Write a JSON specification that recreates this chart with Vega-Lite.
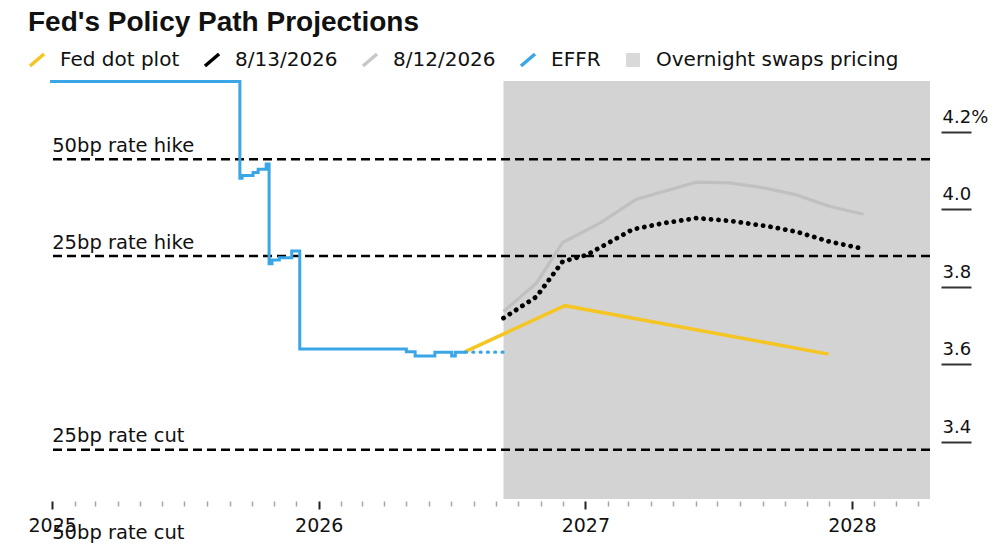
{
  "$schema": "https://vega.github.io/schema/vega-lite/v6.json",
  "width": 880,
  "height": 418,
  "autosize": {"type": "none"},
  "padding": {"left": 50, "top": 81, "right": 70, "bottom": 46},
  "background": "white",
  "title": {
    "text": "Fed's Policy Path Projections",
    "anchor": "start",
    "frame": "group",
    "dx": -22,
    "dy": 28,
    "offset": 19,
    "baseline": "alphabetic",
    "font": "Liberation Sans",
    "fontSize": 28,
    "fontWeight": "bold",
    "color": "#111111"
  },
  "datasets": {
    "swaps": [
      {"start": "2026-09-11", "end": "2028-04-17", "lo": 3.252, "hi": 4.331}
    ],
    "levels": [
      {"label": "50bp rate hike", "value": 4.129},
      {"label": "25bp rate hike", "value": 3.879},
      {"label": "25bp rate cut", "value": 3.379},
      {"label": "50bp rate cut", "value": 3.129}
    ],
    "lines": [
      {"series": "EFFR", "date": "2024-12-29", "value": 4.33},
      {"series": "EFFR", "date": "2025-09-15", "value": 4.08},
      {"series": "EFFR", "date": "2025-09-18", "value": 4.087},
      {"series": "EFFR", "date": "2025-10-03", "value": 4.095},
      {"series": "EFFR", "date": "2025-10-10", "value": 4.103},
      {"series": "EFFR", "date": "2025-10-21", "value": 4.117},
      {"series": "EFFR", "date": "2025-10-25", "value": 3.859},
      {"series": "EFFR", "date": "2025-10-29", "value": 3.869},
      {"series": "EFFR", "date": "2025-11-08", "value": 3.875},
      {"series": "EFFR", "date": "2025-11-25", "value": 3.892},
      {"series": "EFFR", "date": "2025-12-06", "value": 3.639},
      {"series": "EFFR", "date": "2026-05-01", "value": 3.632},
      {"series": "EFFR", "date": "2026-05-13", "value": 3.621},
      {"series": "EFFR", "date": "2026-06-09", "value": 3.631},
      {"series": "EFFR", "date": "2026-07-02", "value": 3.621},
      {"series": "EFFR", "date": "2026-07-07", "value": 3.631},
      {"series": "EFFR", "date": "2026-07-21", "value": 3.631},
      {"series": "EFFR projected", "date": "2026-07-21", "value": 3.631},
      {"series": "EFFR projected", "date": "2026-09-11", "value": 3.631},
      {"series": "Fed dot plot", "date": "2026-07-20", "value": 3.632},
      {"series": "Fed dot plot", "date": "2026-12-04", "value": 3.751},
      {"series": "Fed dot plot", "date": "2027-11-30", "value": 3.626},
      {"series": "8/12/2026", "date": "2026-09-11", "value": 3.736},
      {"series": "8/12/2026", "date": "2026-10-26", "value": 3.809},
      {"series": "8/12/2026", "date": "2026-12-01", "value": 3.914},
      {"series": "8/12/2026", "date": "2027-01-21", "value": 3.964},
      {"series": "8/12/2026", "date": "2027-03-12", "value": 4.026},
      {"series": "8/12/2026", "date": "2027-06-02", "value": 4.07},
      {"series": "8/12/2026", "date": "2027-07-18", "value": 4.068},
      {"series": "8/12/2026", "date": "2027-09-06", "value": 4.054},
      {"series": "8/12/2026", "date": "2027-10-17", "value": 4.037},
      {"series": "8/12/2026", "date": "2027-12-02", "value": 4.007},
      {"series": "8/12/2026", "date": "2028-01-17", "value": 3.987},
      {"series": "8/13/2026", "date": "2026-09-11", "value": 3.719},
      {"series": "8/13/2026", "date": "2026-10-26", "value": 3.774},
      {"series": "8/13/2026", "date": "2026-12-01", "value": 3.865},
      {"series": "8/13/2026", "date": "2027-01-03", "value": 3.882},
      {"series": "8/13/2026", "date": "2027-03-07", "value": 3.948},
      {"series": "8/13/2026", "date": "2027-04-18", "value": 3.964},
      {"series": "8/13/2026", "date": "2027-06-02", "value": 3.977},
      {"series": "8/13/2026", "date": "2027-07-18", "value": 3.97},
      {"series": "8/13/2026", "date": "2027-09-11", "value": 3.955},
      {"series": "8/13/2026", "date": "2027-10-17", "value": 3.942},
      {"series": "8/13/2026", "date": "2027-12-02", "value": 3.916},
      {"series": "8/13/2026", "date": "2028-01-19", "value": 3.897}
    ]
  },
  "layer": [
    {
      "data": {"name": "swaps"},
      "mark": {"type": "rect", "color": "#d3d3d3"},
      "encoding": {
        "x": {
          "field": "start",
          "type": "temporal",
          "scale": {
            "type": "utc",
            "domain": [
              {"year": 2024, "month": 12, "date": 29, "utc": true},
              {"year": 2028, "month": 4, "date": 17, "utc": true}
            ]
          },
          "axis": {
            "orient": "bottom",
            "offset": 2,
            "title": null,
            "domain": false,
            "grid": false,
            "tickCount": {"interval": "month", "step": 1},
            "tickSize": {"condition": {"test": "utcmonth(datum.value) === 0", "value": 8}, "value": 5},
            "tickColor": {"condition": {"test": "utcmonth(datum.value) === 0", "value": "#222222"}, "value": "#a8a8a8"},
            "tickWidth": {"condition": {"test": "utcmonth(datum.value) === 0", "value": 2}, "value": 1.5},
            "labelExpr": "utcmonth(datum.value) === 0 ? utcFormat(datum.value, '%Y') : ''",
            "labelFont": "DejaVu Sans",
            "labelFontSize": 19,
            "labelColor": "#111111",
            "labelPadding": 7,
            "labelFlush": false,
            "labelOverlap": false,
            "labelBound": false
          }
        },
        "x2": {"field": "end"},
        "y": {
          "field": "hi",
          "type": "quantitative",
          "scale": {"domain": [3.252, 4.331], "zero": false, "nice": false},
          "axis": {
            "orient": "right",
            "offset": 11,
            "title": null,
            "values": [3.4, 3.6, 3.8, 4.0, 4.2],
            "domain": false,
            "grid": false,
            "tickSize": 30,
            "tickWidth": 2,
            "tickColor": "#333333",
            "labelAlign": "left",
            "labelBaseline": "alphabetic",
            "labelPadding": -29,
            "labelOffset": -9.5,
            "labelFont": "DejaVu Sans",
            "labelFontSize": 18,
            "labelColor": "#111111",
            "labelExpr": "datum.value === 4.2 ? '4.2%' : format(datum.value, '.1f')",
            "labelBound": false,
            "labelOverlap": false
          }
        },
        "y2": {"field": "lo"}
      }
    },
    {
      "data": {"name": "levels"},
      "mark": {"type": "rule", "color": "#000000", "strokeWidth": 2.5, "strokeDash": [9, 5]},
      "encoding": {
        "y": {"field": "value", "type": "quantitative"}
      }
    },
    {
      "data": {"name": "levels"},
      "mark": {"type": "text", "align": "left", "baseline": "alphabetic", "dy": -7.6, "font": "DejaVu Sans", "fontSize": 19.5, "color": "#111111"},
      "encoding": {
        "x": {"datum": {"year": 2025, "month": 1, "date": 1, "utc": true}, "type": "temporal"},
        "y": {"field": "value", "type": "quantitative"},
        "text": {"field": "label"}
      }
    },
    {
      "data": {"name": "lines"},
      "transform": [{"filter": "datum.series === '8/12/2026'"}],
      "mark": {"type": "line", "color": "#c0c0c0", "strokeWidth": 3.3},
      "encoding": {
        "x": {"field": "date", "type": "temporal"},
        "y": {"field": "value", "type": "quantitative"}
      }
    },
    {
      "data": {"name": "lines"},
      "transform": [{"filter": "datum.series === '8/13/2026'"}],
      "mark": {"type": "line", "color": "#000000", "strokeWidth": 4.8, "strokeCap": "round", "strokeDash": [0.1, 7.4]},
      "encoding": {
        "x": {"field": "date", "type": "temporal"},
        "y": {"field": "value", "type": "quantitative"}
      }
    },
    {
      "data": {"name": "lines"},
      "transform": [{"filter": "datum.series === 'Fed dot plot'"}],
      "mark": {"type": "line", "color": "#f5c523", "strokeWidth": 3.5},
      "encoding": {
        "x": {"field": "date", "type": "temporal"},
        "y": {"field": "value", "type": "quantitative"}
      }
    },
    {
      "data": {"name": "lines"},
      "transform": [{"filter": "datum.series === 'EFFR projected'"}],
      "mark": {"type": "line", "color": "#3aa6e6", "strokeWidth": 3.2, "strokeCap": "round", "strokeDash": [1, 6.3]},
      "encoding": {
        "x": {"field": "date", "type": "temporal"},
        "y": {"field": "value", "type": "quantitative"}
      }
    },
    {
      "data": {"name": "lines"},
      "transform": [{"filter": "datum.series === 'EFFR'"}],
      "mark": {"type": "line", "color": "#3aa6e6", "strokeWidth": 3, "interpolate": "step-after"},
      "encoding": {
        "x": {"field": "date", "type": "temporal"},
        "y": {"field": "value", "type": "quantitative"}
      }
    },
    {
      "data": {"name": "lines"},
      "transform": [{"filter": "datum.series !== 'EFFR projected'"}],
      "mark": {"type": "point", "filled": true, "opacity": 0, "strokeWidth": 0},
      "encoding": {
        "x": {"field": "date", "type": "temporal"},
        "y": {"field": "value", "type": "quantitative"},
        "color": {
          "field": "series",
          "type": "nominal",
          "scale": {
            "domain": ["Fed dot plot", "8/13/2026", "8/12/2026", "EFFR", "Overnight swaps pricing"],
            "range": ["#f5c523", "#000000", "#c8c8c8", "#3aa6e6", "#d9d9d9"]
          },
          "legend": {
            "orient": "none",
            "legendX": -23,
            "legendY": -31,
            "direction": "horizontal",
            "title": null,
            "padding": 0,
            "labelFont": "DejaVu Sans",
            "labelFontSize": 20,
            "labelColor": "#111111",
            "labelLimit": 400,
            "labelOffset": 13,
            "columnPadding": 22,
            "symbolSize": 324,
            "symbolStrokeWidth": 0,
            "symbolOpacity": 1,
            "encode": {"symbols": {"update": {"opacity": {"value": 1}}}}
          }
        },
        "shape": {
          "field": "series",
          "type": "nominal",
          "scale": {
            "domain": ["Fed dot plot", "8/13/2026", "8/12/2026", "EFFR", "Overnight swaps pricing"],
            "range": [
              "M0.653,-0.818L0.907,-0.522L-0.653,0.818L-0.907,0.522Z",
              "M0.653,-0.818L0.907,-0.522L-0.653,0.818L-0.907,0.522Z",
              "M0.653,-0.818L0.907,-0.522L-0.653,0.818L-0.907,0.522Z",
              "M0.653,-0.818L0.907,-0.522L-0.653,0.818L-0.907,0.522Z",
              "M-0.78,-0.78L0.78,-0.78L0.78,0.78L-0.78,0.78Z"
            ]
          },
          "legend": {
            "orient": "none",
            "legendX": -23,
            "legendY": -31,
            "direction": "horizontal",
            "title": null,
            "padding": 0,
            "labelFont": "DejaVu Sans",
            "labelFontSize": 20,
            "labelColor": "#111111",
            "labelLimit": 400,
            "labelOffset": 13,
            "columnPadding": 22,
            "symbolSize": 324,
            "symbolStrokeWidth": 0,
            "symbolOpacity": 1,
            "encode": {"symbols": {"update": {"opacity": {"value": 1}}}}
          }
        }
      }
    }
  ],
  "config": {
    "view": {"stroke": null},
    "axis": {"grid": false}
  }
}
